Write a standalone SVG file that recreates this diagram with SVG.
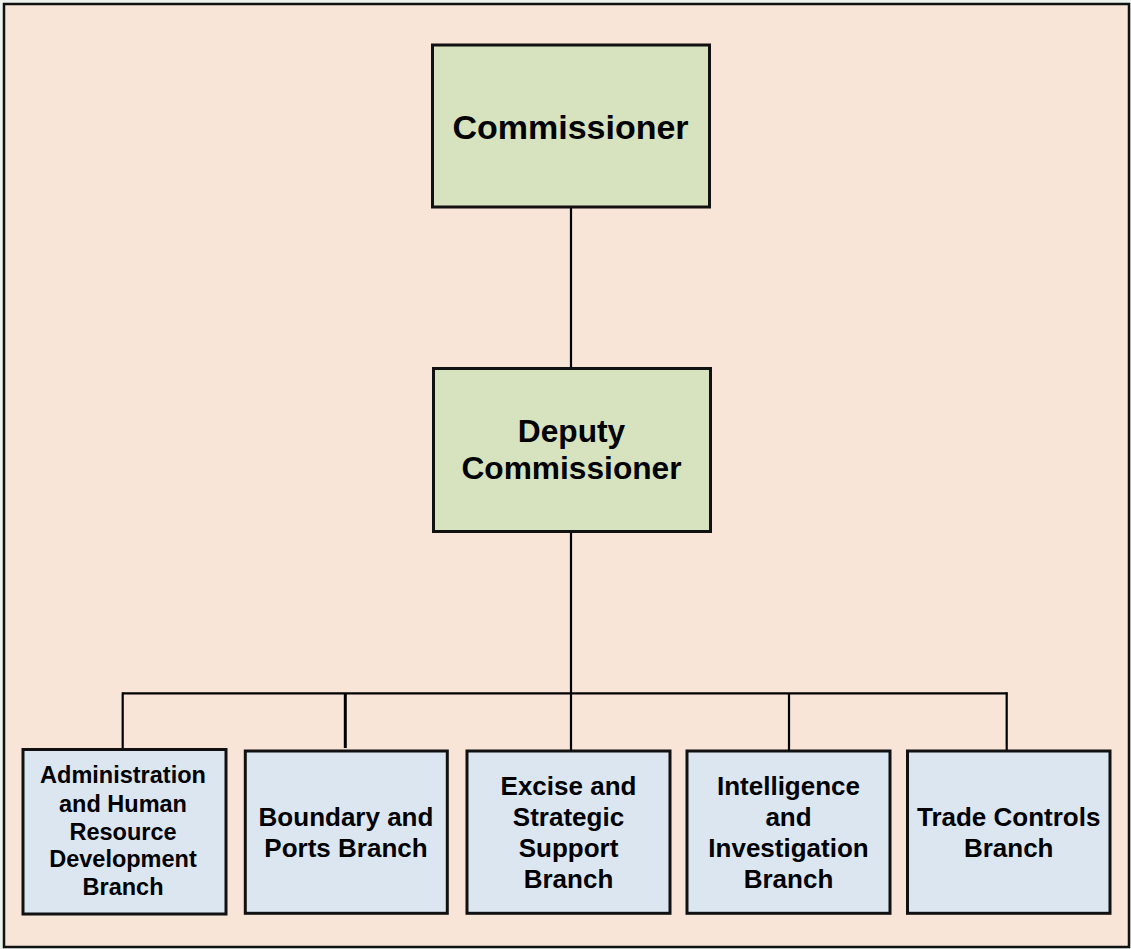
<svg xmlns="http://www.w3.org/2000/svg" width="1131" height="949" viewBox="0 0 1131 949">
<style>
.frame{fill:#F9E5D7;stroke:#111;stroke-width:2.5}
.top{fill:#D7E3BE;stroke:#111;stroke-width:3}
.br{fill:#DCE6F1;stroke:#111;stroke-width:3}
.ln{stroke:#000;stroke-width:2.2;fill:none}
text{font-family:"Liberation Sans",Arial,Helvetica,sans-serif;font-weight:bold;fill:#000;text-anchor:middle}
</style>
<rect x="0" y="0" width="1131" height="949" fill="#EEF3EE"/>
<rect class="frame" x="4" y="4" width="1125" height="943"/>
<g id="connectors">
<line class="ln" x1="571" y1="207" x2="571" y2="368"/>
<line class="ln" x1="571" y1="531" x2="571" y2="751"/>
<line class="ln" x1="122.7" y1="693.3" x2="1007.5" y2="693.3"/>
<line class="ln" x1="122.7" y1="692.3" x2="122.7" y2="749"/>
<line class="ln" x1="345.3" y1="693" x2="345.3" y2="748" style="stroke-width:3"/>
<line class="ln" x1="789" y1="693" x2="789" y2="751"/>
<line class="ln" x1="1006.7" y1="692.3" x2="1006.7" y2="751"/>
</g>
<g id="commissioner">
<rect class="top" x="432.5" y="45" width="277" height="162"/>
<text x="570.5" y="139" font-size="34">Commissioner</text>
</g>
<g id="deputy">
<rect class="top" x="433.5" y="368.5" width="277" height="163"/>
<text x="571.5" y="442" font-size="31.7">Deputy</text>
<text x="571.5" y="479" font-size="31.7">Commissioner</text>
</g>
<g id="admin">
<rect class="br" x="23" y="749.5" width="203" height="164.5"/>
<text font-size="23.5"><tspan x="123" y="783">Administration</tspan><tspan x="123" y="811.5">and Human</tspan><tspan x="123" y="840">Resource</tspan><tspan x="123" y="867">Development</tspan><tspan x="123" y="895">Branch</tspan></text>
</g>
<g id="boundary">
<rect class="br" x="245.3" y="751" width="202" height="162.3"/>
<text font-size="26"><tspan x="346" y="826">Boundary and</tspan><tspan x="346" y="857">Ports Branch</tspan></text>
</g>
<g id="excise">
<rect class="br" x="467" y="751" width="203" height="162.3"/>
<text font-size="26"><tspan x="568.5" y="795">Excise and</tspan><tspan x="568.5" y="826">Strategic</tspan><tspan x="568.5" y="857">Support</tspan><tspan x="568.5" y="888">Branch</tspan></text>
</g>
<g id="intelligence">
<rect class="br" x="687" y="751" width="203" height="162.3"/>
<text font-size="26"><tspan x="788.5" y="795">Intelligence</tspan><tspan x="788.5" y="826">and</tspan><tspan x="788.5" y="857">Investigation</tspan><tspan x="788.5" y="888">Branch</tspan></text>
</g>
<g id="trade">
<rect class="br" x="907.5" y="751" width="202.5" height="162.3"/>
<text font-size="26"><tspan x="1008.7" y="826">Trade Controls</tspan><tspan x="1008.7" y="857">Branch</tspan></text>
</g>
</svg>
